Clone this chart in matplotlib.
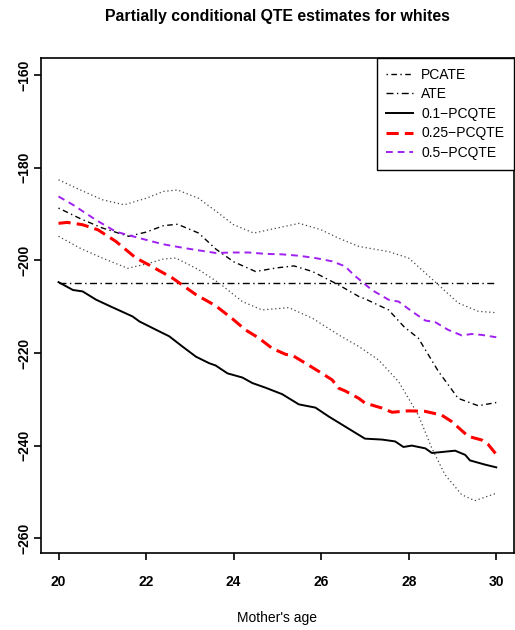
import numpy as np
import matplotlib
matplotlib.use('Agg')
import matplotlib.pyplot as plt

plt.rcParams['font.family'] = ['Liberation Sans', 'DejaVu Sans']

img_name = 'out.png'

###############################################################################
# data

# PCATE and its dotted band
age_pcate = [20, 20.5, 21, 21.6, 22.0, 22.4, 22.72, 23.2, 23.6, 24.0, 24.5,
             25.0, 25.38, 25.8, 26.4, 26.86, 27.0, 27.54, 27.9, 28.22, 28.68,
             29.13, 29.59, 30]
pcate = [-188.7, -191.0, -193.0, -194.8, -193.9, -192.5, -192.2, -194.1,
         -197.6, -200.3, -202.4, -201.6, -201.2, -202.4, -205.3, -207.8,
         -208.3, -210.7, -214.4, -216.8, -224.0, -229.8, -231.4, -230.7]

age_upper = [20, 20.5, 21, 21.5, 22.0, 22.4, 22.72, 23.2, 23.6, 24.0, 24.46,
             25.0, 25.5, 26.0, 26.4, 26.86, 27.54, 28.0, 28.6, 29.13, 29.59, 30]
upper = [-182.6, -184.8, -186.9, -188.0, -186.6, -185.1, -184.8, -186.6,
         -189.4, -192.3, -194.1, -193.0, -192.0, -193.4, -195.2, -197.0,
         -198.1, -199.5, -204.6, -209.2, -211.0, -211.3]

age_lower = [20, 20.5, 21, 21.58, 22.0, 22.4, 22.68, 23.2, 23.67, 24.2, 24.65,
             25.26, 25.8, 26.4, 26.86, 27.31, 27.77, 28.22, 28.53, 28.83,
             29.21, 29.51, 30]
lower = [-194.8, -197.4, -199.5, -201.7, -200.8, -199.7, -199.5, -202.0,
         -204.9, -208.9, -210.7, -210.2, -212.5, -216.1, -218.6, -221.5,
         -226.2, -233.4, -240.6, -246.3, -250.6, -251.9, -250.3]

# ATE (constant)
age_ate = [20, 30]
ate = [-204.9, -204.9]

# 0.1-PCQTE
age_q10 = [20, 20.33, 20.55, 20.86, 21.2, 21.69, 21.85, 22.23, 22.53, 22.83,
           23.14, 23.44, 23.59, 23.86, 24.2, 24.43, 24.73, 25.11, 25.49, 25.87,
           26.17, 26.55, 26.74, 27.0, 27.39, 27.69, 27.88, 28.07, 28.38, 28.53,
           29.06, 29.29, 29.4, 29.74, 30]
q10 = [-204.7, -206.4, -206.7, -208.5, -210.0, -212.1, -213.2, -215.0, -216.4,
       -218.6, -220.8, -222.2, -222.7, -224.4, -225.3, -226.5, -227.5, -228.9,
       -231.1, -231.8, -233.7, -235.9, -237.0, -238.5, -238.7, -239.1, -240.3,
       -240.0, -240.6, -241.6, -241.1, -242.0, -243.2, -244.1, -244.7]

# 0.25-PCQTE
age_q25 = [20, 20.2, 20.55, 20.9, 21.31, 21.77, 22.07, 22.6, 23.14, 23.59,
           23.97, 24.27, 24.58, 24.88, 25.19, 25.34, 25.64, 25.95, 26.25, 26.4,
           26.55, 26.86, 27.0, 27.39, 27.62, 27.99, 28.37, 28.75, 28.98, 29.36,
           29.67, 29.82, 30]
q25 = [-192.0, -191.8, -192.3, -193.4, -195.9, -199.5, -201.0, -203.8, -207.4,
       -209.8, -212.6, -215.0, -216.8, -219.0, -220.3, -220.5, -222.2, -224.0,
       -225.8, -227.6, -228.2, -229.8, -230.8, -231.9, -232.8, -232.5, -232.6,
       -233.4, -234.8, -238.0, -238.8, -239.8, -241.9]

# 0.5-PCQTE
age_q50 = [20, 20.33, 20.86, 21.31, 21.85, 22.38, 22.91, 23.59, 23.97, 24.35,
           24.73, 25.11, 25.49, 25.87, 26.25, 26.55, 26.74, 27.16, 27.54, 27.77,
           28.07, 28.38, 28.6, 28.9, 29.21, 29.44, 29.67, 30]
q50 = [-186.2, -188.0, -191.3, -193.8, -195.2, -196.5, -197.4, -198.4, -198.3,
       -198.3, -198.6, -198.7, -199.0, -199.5, -200.2, -201.3, -203.1, -206.4,
       -208.5, -208.9, -211.0, -213.0, -213.3, -215.0, -216.2, -215.9, -216.1,
       -216.6]

xticks = [20, 22, 24, 26, 28, 30]
yticks = [-160, -180, -200, -220, -240, -260]

###############################################################################
# plotting

fig = plt.figure(figsize=(5.15, 6.3), dpi=100)
ax = fig.add_axes([0.0796, 0.1222, 0.918, 0.7857])

band_style = dict(color='#444444', linewidth=0.9, linestyle=(0, (1, 2.2)))
ax.plot(age_upper, upper, **band_style)
ax.plot(age_lower, lower, **band_style)

ax.plot(age_pcate, pcate, color='black', linewidth=1.0,
        linestyle=(0, (1, 2.5, 4, 2.5)), label='PCATE')
ax.plot(age_ate, ate, color='black', linewidth=1.0,
        linestyle=(0, (5, 2.5, 1, 2.5)), label='ATE')
ax.plot(age_q10, q10, color='black', linewidth=1.4, label='0.1\u2212PCQTE')
ax.plot(age_q25, q25, color='#FF0000', linewidth=2.2,
        linestyle=(0, (4, 2)), label='0.25\u2212PCQTE')
ax.plot(age_q50, q50, color='#A020F0', linewidth=1.4,
        linestyle=(0, (3.5, 2.5)), label='0.5\u2212PCQTE')

ax.set_xlim(19.6, 30.4)
ax.set_ylim(-263.2, -156.3)
ax.set_xticks(xticks)
ax.set_yticks(yticks)
ax.set_xticklabels([str(t) for t in xticks], fontsize=10, fontweight='bold')
ax.set_yticklabels([('\u2212' + str(-t)) for t in yticks], fontsize=10,
                   fontweight='bold', rotation=90, va='center')
ax.tick_params(axis='x', length=5, width=1.2, pad=11)
ax.tick_params(axis='y', length=5, width=1.2, pad=2)
for sp in ax.spines.values():
    sp.set_linewidth(1.2)

ax.set_xlabel("Mother's age", fontsize=10, labelpad=16)
ax.set_title('Partially conditional QTE estimates for whites', fontsize=11.4,
             fontweight='bold', pad=27)

legend = ax.legend(loc='upper right', borderaxespad=0, fancybox=False,
                   edgecolor='black', framealpha=1, fontsize=10,
                   handlelength=1.9, labelspacing=0.4, borderpad=0.7,
                   handletextpad=0.6)
legend.get_frame().set_linewidth(1.0)

plt.savefig(img_name, dpi=100)
plt.close()
